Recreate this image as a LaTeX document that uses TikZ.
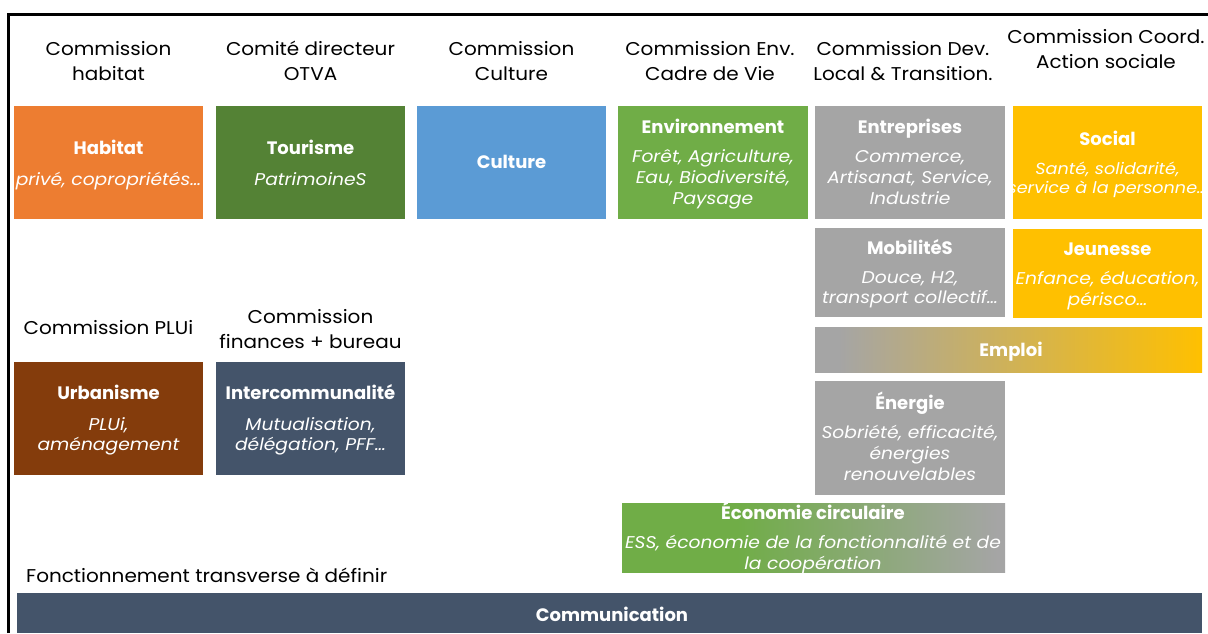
\documentclass[tikz,border=0pt]{standalone}
\usepackage{fontspec}
\setmainfont{Poppins}
\newfontfamily\hdrf{Poppins}[FakeStretch=1.08]
\newfontfamily\subf{Poppins}[FakeStretch=1.1]
\definecolor{cOrange}{HTML}{ED7D31}
\definecolor{cDkGreen}{HTML}{548235}
\definecolor{cBlue}{HTML}{5B9BD5}
\definecolor{cGreen}{HTML}{70AD47}
\definecolor{cGray}{HTML}{A5A5A5}
\definecolor{cGold}{HTML}{FFC000}
\definecolor{cBrown}{HTML}{843C0C}
\definecolor{cSlate}{HTML}{44546A}
\pgfdeclarehorizontalshading{emploishade}{100bp}{color(0bp)=(cGray); color(25bp)=(cGray); color(28bp)=(cGray); color(75bp)=(cGold); color(100bp)=(cGold)}
\pgfdeclarehorizontalshading{ecoshade}{100bp}{color(0bp)=(cGreen); color(25bp)=(cGreen); color(40bp)=(cGreen); color(74bp)=(cGray); color(100bp)=(cGray)}
\tikzset{
  tile/.style={draw=none, inner sep=0pt, anchor=north west},
  hdr/.style={font=\hdrf\fontsize{18.5}{25}\selectfont, text=black, align=center, inner sep=0pt, anchor=base},
  ttl/.style={font=\bfseries\fontsize{18}{21}\selectfont, text=white, inner sep=0pt, anchor=base},
  sub/.style={font=\subf\itshape\fontsize{17}{21}\selectfont, text=white, align=center, inner sep=0pt, anchor=base},
}
\begin{document}
\begin{tikzpicture}[x=1pt, y=-1pt]
\useasboundingbox (0,0) rectangle (1208,633);
\fill[white] (0,0) rectangle (1208,633);
% frame
\draw[line width=3pt] (8,633) -- (8,14) -- (1208,14);

% headers (anchor = baseline of last line)
\node[hdr] (h1) at (108.5,80.5) {Commission\\habitat};
\node[hdr] (h2) at (310.5,80.5) {Comité directeur\\OTVA};
\node[hdr] (h3) at (511.5,80.5) {Commission\\Culture};
\node[hdr] (h4) at (710,80.5) {Commission Env.\\Cadre de Vie};
\node[hdr] (h5) at (903,80.5) {Commission Dev.\\Local \& Transition.};
\node[hdr] (h6) at (1106,68.5) {Commission Coord.\\Action sociale};
\node[hdr] (h7) at (108.5,334.5) {Commission PLUi};
\node[hdr] (h8) at (310.5,348.5) {Commission\\finances + bureau};
\node[hdr, anchor=base west] (h9) at (26,582.5) {Fonctionnement transverse à définir};

% tiles
\node[tile, fill=cOrange, minimum width=189pt, minimum height=113pt] (habitat) at (14,106) {};
\node[tile, fill=cDkGreen, minimum width=189pt, minimum height=113pt] (tourisme) at (216,106) {};
\node[tile, fill=cBlue, minimum width=189pt, minimum height=113pt] (culture) at (417,106) {};
\node[tile, fill=cGreen, minimum width=190pt, minimum height=113pt] (env) at (618,106) {};
\node[tile, fill=cGray, minimum width=190pt, minimum height=113pt] (entr) at (815,106) {};
\node[tile, fill=cGold, minimum width=189pt, minimum height=113pt] (social) at (1013,106) {};
\node[tile, fill=cGray, minimum width=190pt, minimum height=89pt] (mob) at (815,228) {};
\node[tile, fill=cGold, minimum width=189pt, minimum height=89pt] (jeun) at (1013,229) {};
\node[tile, shading=emploishade, minimum width=387pt, minimum height=45pt] (emploi) at (815,327) {};
\node[tile, fill=cGray, minimum width=190pt, minimum height=114pt] (energie) at (815,381) {};
\node[tile, shading=ecoshade, minimum width=383pt, minimum height=69pt] (eco) at (622,503) {};
\node[tile, fill=cBrown, minimum width=189pt, minimum height=113pt] (urba) at (14,362) {};
\node[tile, fill=cSlate, minimum width=189pt, minimum height=113pt] (inter) at (216,362) {};
\node[tile, fill=cSlate, minimum width=1185pt, minimum height=40pt] (comm) at (17,593) {};

% tile texts (multi-line: anchor = baseline of last line)
\node[ttl] (habitatT) at (108.5,154.5) {Habitat};
\node[sub] (habitatS) at (108.5,185.5) {privé, copropriétés…};
\node[ttl] (tourismeT) at (310.5,154.5) {Tourisme};
\node[sub] (tourismeS) at (310.5,185.5) {PatrimoineS};
\node[ttl] (cultureT) at (511.5,168.5) {Culture};
\node[ttl] (envT) at (713,133.5) {Environnement};
\node[sub] (envS) at (713,204.5) {Forêt, Agriculture,\\Eau, Biodiversité,\\Paysage};
\node[ttl] (entrT) at (910,133.5) {Entreprises};
\node[sub] (entrS) at (910,204.5) {Commerce,\\Artisanat, Service,\\Industrie};
\node[ttl] (socialT) at (1107.5,145.5) {Social};
\node[sub, font=\subf\itshape\fontsize{16}{19.5}\selectfont] (socialS) at (1107.5,193.5) {Santé, solidarité,\\service à la personne…};
\node[ttl] (mobT) at (910,254.5) {MobilitéS};
\node[sub, font=\subf\itshape\fontsize{17}{20}\selectfont] (mobS) at (910,303.5) {Douce, H2,\\transport collectif…};
\node[ttl] (jeunT) at (1107.5,255.5) {Jeunesse};
\node[sub] (jeunS) at (1107.5,305.5) {Enfance, éducation,\\périsco…};
\node[ttl] (emploiT) at (1011,356.5) {Emploi};
\node[ttl] (energieT) at (910,409.5) {Énergie};
\node[sub] (energieS) at (910,480.5) {Sobriété, efficacité,\\énergies\\renouvelables};
\node[ttl] (ecoT) at (813,519.5) {Économie circulaire};
\node[sub] (ecoS) at (813,569.5) {ESS, économie de la fonctionnalité et de\\la coopération};
\node[ttl] (urbaT) at (108.5,399.5) {Urbanisme};
\node[sub, font=\subf\itshape\fontsize{17}{20}\selectfont] (urbaS) at (108.5,450.5) {PLUi,\\aménagement};
\node[ttl] (interT) at (310.5,399.5) {Intercommunalité};
\node[sub, font=\subf\itshape\fontsize{17}{20}\selectfont] (interS) at (310.5,450.5) {Mutualisation,\\délégation, PFF…};
\node[ttl] (commT) at (612,621.5) {Communication};
\end{tikzpicture}
\end{document}
